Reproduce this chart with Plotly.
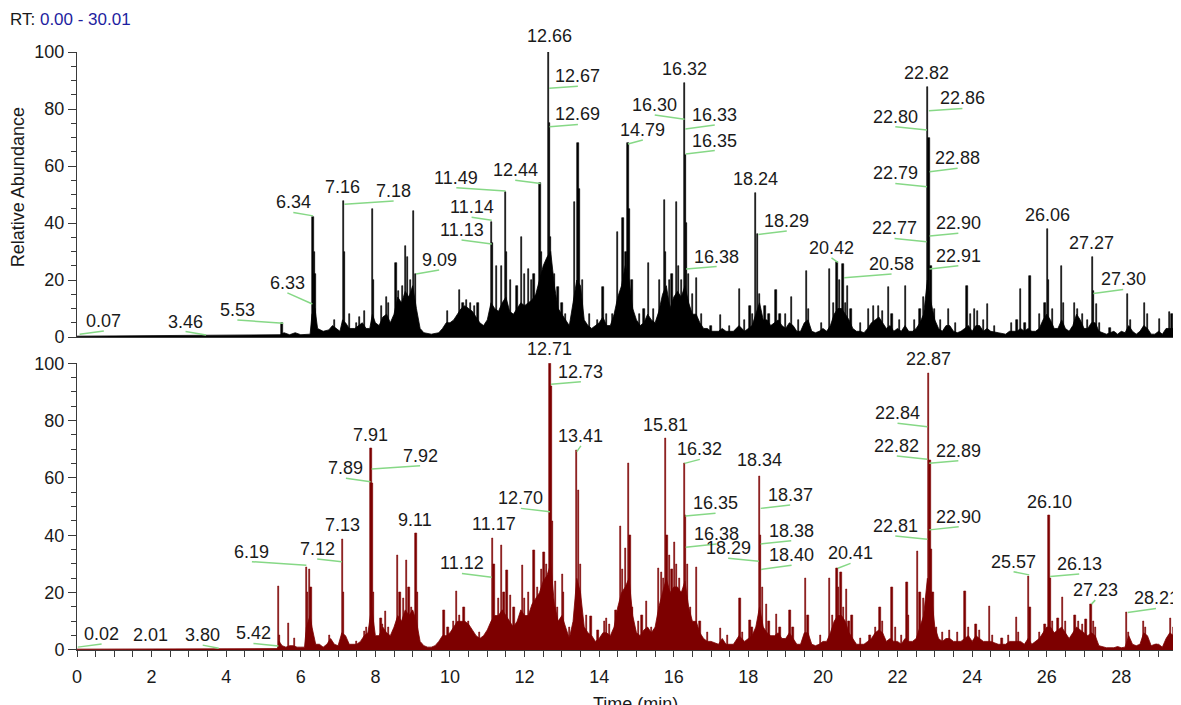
import plotly.graph_objects as go
from plotly.subplots import make_subplots

# ---- upper trace (black) ----
top_base_rt = [0.0, 1.0, 2.0, 3.0, 4.0, 5.0, 5.45, 5.55, 5.7, 5.85, 6.0, 6.25, 6.3, 6.38, 6.45, 6.6, 6.75, 6.85,
               6.95, 7.05, 7.12, 7.2, 7.3, 7.45, 7.55, 7.65, 7.75, 7.85, 7.92, 8.0, 8.1, 8.2, 8.3, 8.4, 8.5, 8.6,
               8.7, 8.8, 8.9, 9.0, 9.1, 9.2, 9.3, 9.5, 9.7, 9.8, 9.9, 10.0, 10.1, 10.2, 10.3, 10.4, 10.5, 10.6,
               10.7, 10.8, 10.9, 11.0, 11.1, 11.2, 11.3, 11.4, 11.5, 11.6, 11.7, 11.8, 11.9, 12.0, 12.1, 12.2,
               12.3, 12.4, 12.5, 12.6, 12.7, 12.8, 12.9, 13.0, 13.1, 13.2, 13.3, 13.4, 13.5, 13.6, 13.7, 13.8,
               13.9, 14.0, 14.1, 14.2, 14.3, 14.4, 14.5, 14.6, 14.7, 14.8, 14.9, 15.0, 15.1, 15.2, 15.3, 15.4,
               15.5, 15.6, 15.7, 15.8, 15.9, 16.0, 16.1, 16.2, 16.3, 16.4, 16.5, 16.6, 16.7, 16.8, 16.9, 17.0,
               17.2, 17.3, 17.4, 17.6, 17.75, 17.9, 18.0, 18.1, 18.2, 18.3, 18.4, 18.5, 18.6, 18.7, 18.8, 18.9,
               19.0, 19.1, 19.2, 19.3, 19.4, 19.5, 19.6, 19.7, 19.8, 19.9, 20.0, 20.1, 20.2, 20.3, 20.4, 20.5,
               20.6, 20.7, 20.8, 20.9, 21.0, 21.1, 21.2, 21.3, 21.4, 21.5, 21.6, 21.7, 21.8, 21.9, 22.0, 22.1,
               22.2, 22.3, 22.4, 22.5, 22.6, 22.7, 22.8, 22.9, 23.0, 23.1, 23.2, 23.3, 23.4, 23.5, 23.6, 23.7,
               23.8, 23.9, 24.0, 24.1, 24.2, 24.3, 24.4, 24.5, 24.7, 24.9, 25.0, 25.2, 25.3, 25.4, 25.5, 25.6,
               25.7, 25.8, 25.9, 26.0, 26.1, 26.2, 26.3, 26.4, 26.5, 26.6, 26.7, 26.8, 26.9, 27.0, 27.1, 27.2,
               27.3, 27.4, 27.6, 27.8, 27.9, 28.0, 28.1, 28.2, 28.3, 28.4, 28.5, 28.6, 28.7, 28.8, 28.9, 29.0,
               29.1, 29.2, 29.3, 29.4, 29.5, 29.6]
top_base_h = [0.3, 0.4, 0.5, 0.6, 0.6, 0.6, 0.8, 1.5, 0.8, 1.5, 0.8, 1.0, 8, 10, 3, 2, 2.5, 4,
              3, 2, 6, 5, 3, 3, 4, 5, 3, 3, 8, 5, 4, 7, 8, 5, 8, 14,
              12, 16, 14, 18, 10, 3, 1.5, 1, 1.5, 3, 5, 5, 6, 8, 10, 11, 10, 9,
              7, 5, 4, 6, 12, 10, 9, 12, 14, 9, 8, 10, 12, 11, 12, 13,
              15, 20, 25, 28, 30, 18, 10, 8, 6, 4, 12, 20, 18, 6, 4, 3,
              4, 5, 7, 4, 4, 8, 14, 18, 25, 20, 10, 6, 4, 5, 8, 6,
              5, 9, 15, 18, 10, 14, 16, 14, 18, 12, 8, 8, 5, 3, 3, 2,
              2, 3, 2, 2, 4, 2, 3, 4, 8, 12, 6, 6, 4, 5, 6, 4,
              3, 5, 4, 2, 2, 5, 6, 2, 1.5, 2, 3, 2, 4, 8, 10, 10,
              8, 6, 3, 2, 2, 1.5, 3, 5, 6, 7, 5, 3, 4, 2, 3, 2,
              4, 2, 2, 3, 5, 8, 20, 12, 6, 3, 2, 4, 4, 2, 1.5, 2,
              3, 4, 2, 4, 4, 2, 3, 2, 1.5, 1, 2, 2, 3, 2, 3, 2,
              2, 3, 6, 8, 6, 3, 3, 6, 3, 2, 4, 8, 6, 3, 3, 5,
              5, 2, 1, 2, 1, 2, 1.5, 4, 2, 1, 2, 4, 3, 1, 1, 2,
              1, 3, 3, 3, 2, 3]
top_peak_rt = [5.50, 6.33, 6.36, 6.38, 6.90, 7.15, 7.17, 7.30, 7.50, 7.57, 7.70, 7.92, 7.95, 8.16, 8.30, 8.35,
               8.55, 8.62, 8.73, 8.80, 8.86, 8.95, 9.03, 9.07, 9.93, 10.25, 10.35, 10.45, 10.55, 10.65, 10.75,
               11.11, 11.14, 11.25, 11.38, 11.49, 11.52, 11.63, 11.80, 11.92, 12.00, 12.10, 12.18, 12.25, 12.41,
               12.46, 12.55, 12.65, 12.67, 12.70, 12.80, 12.90, 13.00, 13.10, 13.33, 13.43, 13.46, 13.55, 13.75,
               13.95, 14.10, 14.20, 14.35, 14.49, 14.64, 14.72, 14.77, 14.80, 14.88, 15.09, 15.20, 15.33, 15.45,
               15.62, 15.75, 15.78, 15.88, 15.95, 16.07, 16.12, 16.20, 16.29, 16.32, 16.35, 16.40, 16.50, 16.61,
               16.75, 17.00, 17.25, 17.50, 17.77, 17.90, 18.04, 18.12, 18.20, 18.24, 18.30, 18.45, 18.55, 18.74,
               18.85, 19.00, 19.15, 19.35, 19.55, 19.62, 19.96, 20.17, 20.28, 20.38, 20.45, 20.54, 20.60, 20.66,
               20.75, 21.00, 21.22, 21.35, 21.49, 21.60, 21.76, 21.85, 22.05, 22.22, 22.45, 22.60, 22.70, 22.80,
               22.84, 22.90, 23.00, 23.15, 23.37, 23.55, 23.86, 23.95, 24.07, 24.15, 24.30, 24.42, 24.60, 25.05,
               25.20, 25.29, 25.42, 25.55, 25.80, 25.95, 26.02, 26.05, 26.15, 26.40, 26.45, 26.75, 26.82, 26.95,
               27.10, 27.22, 27.25, 27.34, 27.42, 27.70, 28.17, 28.25, 28.63, 28.70, 29.03, 29.29, 29.36, 29.43,
               29.55]
top_peak_h = [4.9, 42, 30, 22, 6, 47.7, 30, 8, 5, 7, 9, 44.8, 20, 11, 14, 12,
              26, 16, 18, 32, 28, 20, 44.2, 22, 9, 16.5, 12, 13, 12, 11, 12,
              40.5, 33, 25, 25, 51, 30, 20, 18, 35, 22, 24, 20, 22, 54,
              30, 23.5, 100, 75, 35, 22, 17.7, 12, 8, 47.5, 68, 52, 20, 8,
              6, 17.6, 8, 8, 37, 41.6, 30, 68, 45, 20, 8, 10, 26, 10,
              20, 48, 30, 20, 22, 47.5, 25, 20, 89, 64, 40, 22, 15, 20.6,
              8, 4, 7.7, 4, 17, 6, 11, 8, 50.5, 36, 15, 11, 8, 16.5,
              8, 8, 14, 6, 23, 10, 5, 24, 12, 26.4, 20, 25.5, 12, 18,
              10, 5, 10, 11, 11, 9, 17.6, 8, 6, 17.9, 6, 10, 14, 87.6,
              70, 25, 10, 6, 10, 5, 18, 8, 10, 9, 6, 11.6, 4, 5,
              6, 17, 5, 21.5, 8, 12, 37.8, 20, 10, 25, 12, 12, 10, 8,
              6, 28.2, 16, 11.7, 5, 3, 15, 6, 12, 8, 6.4, 8.8, 8, 8.8,
              6]

top_lbl_text = ["0.07", "3.46", "5.53", "6.33", "6.34", "7.16", "7.18", "9.09", "11.13", "11.14", "11.49",
                "12.44", "12.66", "12.67", "12.69", "14.79", "16.30", "16.32", "16.33", "16.35", "16.38",
                "18.24", "18.29", "20.42", "20.58", "22.82", "22.86", "22.80", "22.88", "22.79", "22.77",
                "22.90", "22.91", "26.06", "27.27", "27.30"]
top_lbl_x = [0.72, 2.91, 4.30, 5.64, 5.80, 7.11, 8.49, 9.71, 10.31, 10.58, 10.17,
             11.75, 12.68, 13.43, 13.43, 15.17, 15.49, 16.29, 17.10, 17.10, 17.15,
             18.19, 19.03, 20.23, 21.84, 22.77, 23.74, 21.94, 23.61, 21.94, 21.92,
             23.63, 23.63, 26.02, 27.19, 28.05]
top_lbl_y = [2.1, 1.9, 6.0, 15.5, 43.7, 49.0, 47.7, 23.5, 34.0, 42.0, 52.4,
             55.0, 102.0, 88.0, 74.6, 69.1, 77.9, 90.5, 74.4, 65.4, 24.7,
             52.0, 37.2, 27.8, 22.1, 89.0, 80.2, 73.8, 59.2, 53.9, 34.6,
             36.4, 25.0, 39.2, 29.6, 16.7]
top_lbl_rt = [0.07, 3.46, 5.53, 6.31, 6.33, 7.15, 7.17, 9.09, 11.12, 11.12, 11.49,
              12.43, 12.66, 12.66, 12.67, 14.77, 16.29, 16.29, 16.31, 16.32, 16.33,
              18.21, 18.27, 20.40, 20.57, 22.80, 22.84, 22.79, 22.86, 22.79, 22.78,
              22.86, 22.86, 26.02, 27.22, 27.25]
top_lbl_h = [1.0, 0.7, 4.8, 11.6, 42.5, 47.7, 46.6, 22.1, 32.6, 41.0, 51.2,
             53.9, 100, 87.3, 73.8, 67.7, 76.4, 89, 73, 64.2, 23.9,
             50.4, 36, 26.2, 20.8, 87.6, 79.4, 72.6, 58.0, 52.7, 33.4,
             35.4, 23.9, 37.8, 28.2, 15.3]

# ---- lower trace (dark red) ----
bot_base_rt = [0.0, 1.0, 2.0, 2.5, 3.0, 3.5, 4.0, 4.5, 5.0, 5.38, 5.42, 5.5, 5.6, 5.7, 5.8, 5.9, 6.0, 6.1,
               6.15, 6.2, 6.25, 6.3, 6.4, 6.5, 6.6, 6.7, 6.8, 6.9, 7.0, 7.1, 7.2, 7.3, 7.4, 7.5, 7.6, 7.7,
               7.8, 7.9, 8.0, 8.1, 8.2, 8.3, 8.4, 8.5, 8.6, 8.7, 8.8, 8.9, 9.0, 9.1, 9.2, 9.3, 9.4, 9.5,
               9.6, 9.7, 9.8, 9.9, 10.0, 10.1, 10.2, 10.3, 10.4, 10.5, 10.6, 10.7, 10.8, 10.9, 11.0, 11.1,
               11.2, 11.3, 11.4, 11.5, 11.6, 11.7, 11.8, 11.9, 12.0, 12.1, 12.2, 12.3, 12.4, 12.5, 12.6,
               12.7, 12.8, 12.9, 13.0, 13.1, 13.2, 13.3, 13.4, 13.5, 13.6, 13.7, 13.8, 13.9, 14.0, 14.1,
               14.2, 14.3, 14.4, 14.5, 14.6, 14.7, 14.8, 14.9, 15.0, 15.1, 15.2, 15.3, 15.4, 15.5, 15.6,
               15.7, 15.8, 15.9, 16.0, 16.1, 16.2, 16.3, 16.4, 16.5, 16.6, 16.7, 16.8, 16.9, 17.0, 17.2,
               17.3, 17.4, 17.6, 17.75, 17.9, 18.0, 18.1, 18.2, 18.3, 18.4, 18.5, 18.6, 18.7, 18.8, 18.9,
               19.0, 19.1, 19.2, 19.3, 19.4, 19.5, 19.6, 19.7, 19.8, 19.9, 20.0, 20.1, 20.2, 20.3, 20.4,
               20.5, 20.6, 20.7, 20.8, 20.9, 21.0, 21.1, 21.2, 21.3, 21.4, 21.5, 21.6, 21.7, 21.8, 21.9,
               22.0, 22.1, 22.2, 22.3, 22.4, 22.5, 22.6, 22.7, 22.8, 22.9, 23.0, 23.1, 23.2, 23.3, 23.4,
               23.5, 23.6, 23.7, 23.8, 23.9, 24.0, 24.1, 24.2, 24.3, 24.4, 24.5, 24.7, 24.9, 25.0, 25.2,
               25.3, 25.4, 25.5, 25.6, 25.7, 25.8, 25.9, 26.0, 26.1, 26.2, 26.3, 26.4, 26.5, 26.6, 26.7,
               26.8, 26.9, 27.0, 27.1, 27.2, 27.3, 27.4, 27.6, 27.8, 27.9, 28.0, 28.1, 28.2, 28.3, 28.4,
               28.5, 28.6, 28.7, 28.8, 28.9, 29.0, 29.1, 29.2, 29.3, 29.4, 29.5, 29.6]
bot_base_h = [0.3, 0.3, 0.5, 0.3, 0.4, 0.5, 0.3, 0.4, 0.4, 0.5, 3, 1.5, 1, 1.5, 1.5, 1, 1, 1,
              8, 10, 12, 8, 2, 2, 1, 2, 4, 2, 1.5, 6, 5, 2, 2, 2, 3, 5,
              6, 15, 5, 5, 8, 6, 5, 8, 12, 10, 14, 12, 14, 10, 3, 1.5, 1, 1,
              1.5, 3, 5, 5, 6, 8, 10, 10, 10, 9, 7, 5, 4, 5, 7, 10,
              12, 12, 14, 12, 10, 8, 10, 14, 12, 12, 16, 18, 20, 24, 26,
              30, 16, 10, 12, 8, 4, 10, 25, 20, 8, 6, 5, 3, 4, 6,
              6, 5, 8, 15, 20, 22, 25, 12, 6, 5, 7, 8, 6, 8, 15,
              20, 25, 20, 22, 22, 20, 24, 15, 10, 10, 6, 4, 3, 3, 2,
              4, 2, 2, 5, 3, 4, 5, 8, 15, 8, 6, 5, 5, 6, 4,
              4, 6, 4, 2, 2, 6, 6, 2, 1.5, 2, 3, 3, 6, 10, 12,
              12, 10, 6, 4, 2, 2, 2, 3, 4, 6, 7, 6, 3, 4, 3,
              3, 2, 4, 3, 3, 4, 8, 12, 25, 20, 8, 4, 3, 4, 4,
              3, 3, 3, 4, 5, 3, 5, 4, 3, 3, 3, 2, 2, 3, 3,
              3, 2, 4, 2, 3, 4, 6, 8, 8, 6, 7, 8, 6, 4, 6,
              8, 7, 6, 5, 6, 5, 1.5, 0.8, 0.8, 1.2, 0.8, 1, 5, 2, 1.5,
              2, 6, 5, 1.5, 2, 2, 1, 4, 6, 5, 3, 4]
bot_peak_rt = [5.41, 5.43, 5.67, 5.83, 6.16, 6.18, 6.24, 6.27, 6.77, 7.12, 7.15, 7.50, 7.70, 7.76, 7.88, 7.91,
               7.95, 8.15, 8.20, 8.27, 8.35, 8.59, 8.66, 8.75, 8.84, 8.90, 8.97, 9.09, 9.13, 9.84, 9.95, 10.10,
               10.18, 10.25, 10.38, 10.50, 10.80, 11.14, 11.18, 11.30, 11.38, 11.45, 11.53, 11.63, 11.72, 11.94,
               12.00, 12.10, 12.25, 12.35, 12.45, 12.52, 12.58, 12.68, 12.71, 12.74, 12.82, 12.88, 13.01, 13.05,
               13.20, 13.40, 13.45, 13.50, 13.66, 13.78, 13.97, 14.15, 14.20, 14.27, 14.45, 14.57, 14.62, 14.70,
               14.79, 14.83, 14.90, 15.05, 15.15, 15.27, 15.40, 15.57, 15.60, 15.68, 15.72, 15.78, 15.82, 15.88,
               15.95, 16.02, 16.08, 16.15, 16.22, 16.29, 16.32, 16.36, 16.45, 16.61, 16.70, 16.90, 17.25, 17.45,
               17.78, 17.85, 18.04, 18.10, 18.30, 18.33, 18.38, 18.48, 18.55, 18.75, 18.85, 19.12, 19.20, 19.53,
               19.60, 19.93, 20.17, 20.25, 20.38, 20.42, 20.48, 20.55, 20.64, 20.70, 20.78, 21.00, 21.26, 21.40,
               21.53, 21.60, 21.85, 21.95, 22.10, 22.25, 22.30, 22.54, 22.60, 22.70, 22.83, 22.87, 22.90, 22.95,
               23.05, 23.20, 23.40, 23.60, 23.81, 23.90, 24.10, 24.20, 24.46, 24.55, 24.80, 24.97, 25.19, 25.25,
               25.51, 25.55, 25.80, 25.95, 26.06, 26.09, 26.15, 26.30, 26.43, 26.50, 26.76, 26.85, 26.95, 27.05,
               27.19, 27.25, 27.30, 28.14, 28.20, 28.60, 28.65, 28.95, 29.32, 29.40, 29.48, 29.58]
bot_peak_h = [22.3, 5, 9.3, 4, 28.7, 20, 28, 22, 5, 38.6, 20, 3, 6.6, 8, 70.3, 58,
              20, 11, 9, 13.4, 8, 33, 20, 18, 31.4, 22, 15, 40.7, 20, 14, 8, 10,
              20.3, 12, 15, 10, 6, 39, 30, 18, 36.4, 20, 27.7, 19, 15, 29.4,
              18, 20, 34.6, 22, 28, 34, 30, 100, 92, 45, 24, 15, 26.4, 20,
              8, 69.5, 55.8, 30, 12, 11.9, 7, 10, 11, 9, 14, 43, 28, 35.5,
              65.2, 40, 15, 10, 12, 17, 8, 9, 28.5, 27, 25, 73.8, 40, 33,
              28, 37.5, 30, 25, 20, 65, 47, 30, 15, 29, 10, 6, 7.5, 5,
              18, 6, 10.5, 8, 60.7, 40, 22, 16, 10, 12.5, 8, 14, 8, 25,
              12, 5, 25, 12, 28.5, 22, 27, 15, 21, 10, 12, 4, 5, 8,
              15, 10, 21.9, 8, 5, 23.6, 12, 34.3, 20, 18, 96.5, 66, 35, 20,
              8, 6, 7, 6, 20.3, 8, 9, 7, 15.1, 5, 4, 5, 11.4, 6,
              25.6, 15, 6, 9, 47, 25, 10, 11, 18.4, 10, 12, 10, 9, 10.6,
              16, 10, 8, 13.1, 6, 9.9, 8, 2, 11, 8, 6, 7]

bot_lbl_text = ["0.02", "2.01", "3.80", "5.42", "6.19", "7.12", "7.13", "7.89", "7.91", "7.92", "9.11",
                "11.12", "11.17", "12.70", "12.71", "12.73", "13.41", "15.81", "16.32", "16.35", "16.38",
                "18.29", "18.34", "18.37", "18.38", "18.40", "20.41", "22.87", "22.84", "22.82", "22.89",
                "22.81", "22.90", "25.57", "26.10", "26.13", "27.23", "28.21"]
bot_lbl_x = [0.66, 1.97, 3.37, 4.73, 4.69, 6.44, 7.12, 7.21, 7.86, 9.20, 9.07,
             10.32, 11.18, 11.90, 12.68, 13.51, 13.51, 15.78, 16.70, 17.12, 17.15,
             17.46, 18.30, 19.12, 19.15, 19.16, 20.74, 22.82, 22.00, 21.98, 23.63,
             21.94, 23.64, 25.11, 26.07, 26.87, 27.30, 28.93]
bot_lbl_y = [2.1, 1.6, 1.7, 2.3, 30.8, 31.7, 40.0, 59.9, 71.6, 64.3, 41.8,
             26.7, 40.6, 49.4, 101.6, 93.6, 71.2, 75.1, 66.5, 47.7, 37.0,
             32.0, 62.7, 50.6, 38.1, 29.6, 30.2, 98.1, 79.1, 67.7, 66.0,
             39.8, 43.0, 27.3, 48.1, 26.5, 17.4, 14.5]
bot_lbl_rt = [0.02, 2.01, 3.80, 5.40, 6.15, 7.10, 7.12, 7.87, 7.88, 7.90, 9.09,
              11.12, 11.14, 12.68, 12.70, 12.71, 13.40, 15.78, 16.29, 16.31, 16.32,
              18.28, 18.30, 18.33, 18.33, 18.34, 20.40, 22.84, 22.80, 22.80, 22.85,
              22.80, 22.85, 25.53, 26.07, 26.09, 27.20, 28.17]
bot_lbl_h = [1.0, 0.5, 0.6, 1.4, 29.6, 30.8, 38.6, 58.7, 70.3, 63.1, 40.7,
             25.4, 39, 48.2, 100, 92.7, 69.2, 73.8, 65.1, 46.7, 35.8,
             31.0, 60.7, 49.4, 37.0, 28.1, 28.5, 96.5, 77.9, 66.5, 65.1,
             38.6, 41.9, 26.2, 47, 25.6, 16.0, 13.1]

TXT = '#1a1a1a'
AX = '#3a3a3a'
LEAD = '#86d886'
FONT = 'Liberation Sans, Arial, sans-serif'
PX_PER_UNIT = 2.86  # vertical pixels per % abundance in each panel

fig = make_subplots(rows=2, cols=1)


def add_panel(row, base_rt, base_h, peak_rt, peak_h, color, texts, lxs, lys, rts, hs):
    fig.add_trace(go.Scatter(x=base_rt, y=base_h, mode='lines', fill='tozeroy', fillcolor=color,
                             line=dict(color=color, width=0.8), hoverinfo='skip'), row=row, col=1)
    fig.add_trace(go.Bar(x=peak_rt, y=peak_h, width=0.035,
                         marker=dict(color=color, line=dict(color=color, width=0.6))), row=row, col=1)
    # green leader lines from label to peak
    lead_x, lead_y = [], []
    for lx, ly, rt, h in zip(lxs, lys, rts, hs):
        if abs(lx - rt) > 0.08:
            lead_x += [lx, rt, None]
            lead_y += [ly, h, None]
    fig.add_trace(go.Scatter(x=lead_x, y=lead_y, mode='lines', line=dict(color=LEAD, width=1.5),
                             hoverinfo='skip', cliponaxis=False), row=row, col=1)
    for t, lx, ly in zip(texts, lxs, lys):
        # labels above the 100 line would be hidden, so pin to 100 and shift up
        extra = max(ly - 100, 0) * PX_PER_UNIT
        fig.add_annotation(x=lx, y=min(ly, 100), text=t, showarrow=False, xanchor='center',
                           yanchor='bottom', yshift=extra - 2,
                           font=dict(family=FONT, size=18, color=TXT), row=row, col=1)


add_panel(1, top_base_rt, top_base_h, top_peak_rt, top_peak_h, '#000000',
          top_lbl_text, top_lbl_x, top_lbl_y, top_lbl_rt, top_lbl_h)
add_panel(2, bot_base_rt, bot_base_h, bot_peak_rt, bot_peak_h, '#7d0000',
          bot_lbl_text, bot_lbl_x, bot_lbl_y, bot_lbl_rt, bot_lbl_h)

yax = dict(range=[0, 100], dtick=20, ticks='outside', ticklen=8, tickcolor=AX, tickwidth=1,
           minor=dict(dtick=5, ticks='outside', ticklen=5, tickcolor=AX),
           showline=True, linecolor=AX, linewidth=1, showgrid=False, zeroline=False,
           automargin=False, tickfont=dict(family=FONT, size=18, color=TXT))

# the page body has an 8px margin, so the figure is 8px smaller than the window
fig.update_layout(
    width=1173, height=697,
    margin=dict(l=69, r=0, t=44, b=55),
    plot_bgcolor='white', paper_bgcolor='white',
    showlegend=False, bargap=0, barmode='overlay',
    font=dict(family=FONT, size=18, color=TXT),
    xaxis=dict(domain=[0, 1], range=[0, 29.6], showline=True, linecolor=AX, ticks='',
               showticklabels=False, showgrid=False, zeroline=False, automargin=False),
    xaxis2=dict(domain=[0, 1], range=[0, 29.6], dtick=2, ticks='outside', ticklen=6, tickcolor=AX,
                minor=dict(dtick=0.5, ticks='outside', ticklen=6, tickcolor=AX),
                showline=True, linecolor=AX, showgrid=False, zeroline=False, ticklabelstandoff=4,
                automargin=False, tickfont=dict(family=FONT, size=18, color=TXT)),
    yaxis=dict(domain=[0.5234, 1], **yax),
    yaxis2=dict(domain=[0, 0.4794], **yax),
)

fig.add_annotation(xref='paper', yref='paper', x=-0.0534, y=0.774, xanchor='center', yanchor='middle',
                   text='Relative Abundance', textangle=-90, showarrow=False,
                   font=dict(family=FONT, size=18, color=TXT))
fig.add_annotation(xref='paper', yref='paper', x=0.506, y=-0.0702, xanchor='center', yanchor='top',
                   text='Time (min)', showarrow=False, font=dict(family=FONT, size=18, color=TXT))
fig.add_annotation(xref='paper', yref='paper', x=-0.0625, y=1.0736, xanchor='left', yanchor='top',
                   text="RT: <span style='color:#1e1ea0'>0.00 - 30.01</span>",
                   showarrow=False, font=dict(family=FONT, size=17, color=TXT))

fig.write_html("out.html")
